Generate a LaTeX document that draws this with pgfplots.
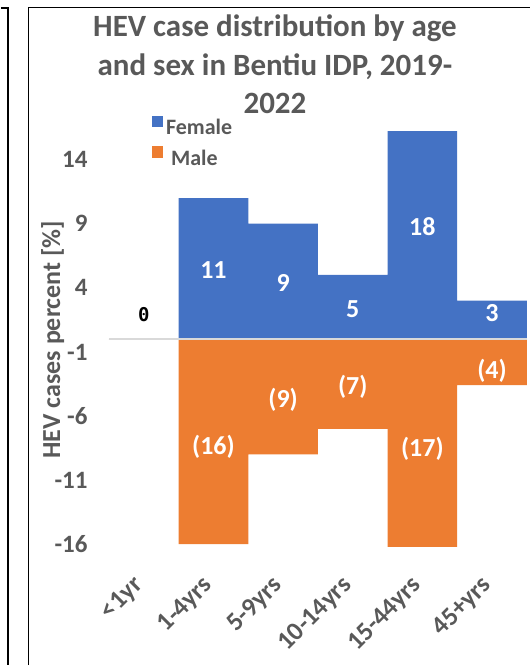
\documentclass[border=0pt]{standalone}
\usepackage{pgfplots}
\usepackage{pgfplotstable}
\pgfplotsset{compat=1.18}
\usepackage{fontspec}
\setmainfont{Carlito}
\newfontfamily\monofont{DejaVu Sans Mono}
\definecolor{fem}{HTML}{4472C4}
\definecolor{mal}{HTML}{ED7D31}
\definecolor{txt}{HTML}{595959}
\definecolor{axgray}{HTML}{D9D9D9}

\pgfplotstableread{
x f m
0 0 0
1 11 -16
2 9 -9
3 5 -7
4 18 -17
5 3 -3.6
}\bars

\pgfplotstableread{
x y lab
1 5.4 11
2 4.4 9
3 2.3 5
4 8.8 18
5 2.0 3
}\flab

\pgfplotstableread{
x y lab
1 -8.4 (16)
2 -4.7 (9)
3 -3.7 (7)
4 -8.6 (17)
5 -2.5 (4)
}\mlab

\pgfplotstableread{
x y lab
0 1.9 0
}\zlab

\begin{document}
\begin{tikzpicture}
\path (0pt,0pt) rectangle (530pt,666pt);
% frames
\draw[line width=1.6pt,black] (27.8pt,0pt) -- (27.8pt,658.3pt) -- (530pt,658.3pt);
\draw[line width=1.6pt,black] (0pt,657.7pt) -- (7.3pt,657.7pt) -- (7.3pt,0pt);
\begin{axis}[
  at={(108.3pt,118.6pt)}, anchor=south west,
  scale only axis, width=418.4pt, height=415.8pt,
  xmin=-0.5, xmax=5.5, ymin=-16.2, ymax=16.2,
  axis line style={draw=none},
  major tick length=0pt,
  tick style={draw=none},
  ytick={-16,-11,-6,-1,4,9,14},
  yticklabels={-16,-11,-6,-1,4,9,14},
  xtick={0,1,2,3,4,5},
  xticklabels={<1yr,1-4yrs,5-9yrs,10-14yrs,15-44yrs,45+yrs},
  yticklabel style={font=\fontsize{25}{30}\selectfont\bfseries, text=txt, inner sep=0pt, anchor=east, xshift=-21.3pt},
  xticklabel style={font=\fontsize{26}{31}\selectfont\bfseries, text=txt, inner sep=0pt, yshift=-39.6pt, rotate=45, anchor=base east},
  ylabel={HEV cases percent [\%]},
  ylabel style={font=\fontsize{26}{31}\selectfont\bfseries, text=txt, at={(axis description cs:-0.1346,0.4988)}, anchor=center, inner sep=0pt},
  title={HEV case distribution by age\\and sex in Bentiu IDP, 2019-\\2022},
  title style={font=\fontsize{31}{38.5}\selectfont\bfseries, text=txt, align=center, at={(axis description cs:0.3972,1.266)}, anchor=north, inner sep=0pt},
  legend style={draw=none, fill=none, at={(axis description cs:0.1021,1.0375)}, anchor=north west, inner sep=0pt, outer sep=0pt, font=\fontsize{22}{26}\selectfont\bfseries, text=txt, row sep=11.5pt, column sep=3pt, nodes={inner sep=0pt, text height=15pt, text depth=0pt}},
  legend cell align=left,
  legend image code/.code={\fill[#1] (0pt,0pt) rectangle (11.5pt,11.5pt);},
]
\addplot[ybar, bar width=1, bar shift=0pt, fill=fem, draw=none] table[x=x,y=f]{\bars};
\addplot[ybar, bar width=1, bar shift=0pt, fill=mal, draw=none] table[x=x,y=m]{\bars};
\legend{Female,{~Male}}
\addplot[axgray, line width=1.5pt, forget plot] coordinates {(-0.5,0) (5.5,0)};
\addplot[draw=none, mark=none, forget plot, nodes near coords, point meta=explicit symbolic,
  nodes near coords style={anchor=center, inner sep=0pt, text=white, font=\fontsize{26}{31}\selectfont\bfseries}]
  table[x=x,y=y,meta=lab]{\flab};
\addplot[draw=none, mark=none, forget plot, nodes near coords, point meta=explicit symbolic,
  nodes near coords style={anchor=center, inner sep=0pt, text=white, font=\fontsize{26}{31}\selectfont\bfseries}]
  table[x=x,y=y,meta=lab]{\mlab};
\addplot[draw=none, mark=none, forget plot, nodes near coords, point meta=explicit symbolic,
  nodes near coords style={anchor=center, inner sep=0pt, text=black, font=\fontsize{19}{23}\selectfont\monofont\bfseries}]
  table[x=x,y=y,meta=lab]{\zlab};
\end{axis}
\end{tikzpicture}
\end{document}
